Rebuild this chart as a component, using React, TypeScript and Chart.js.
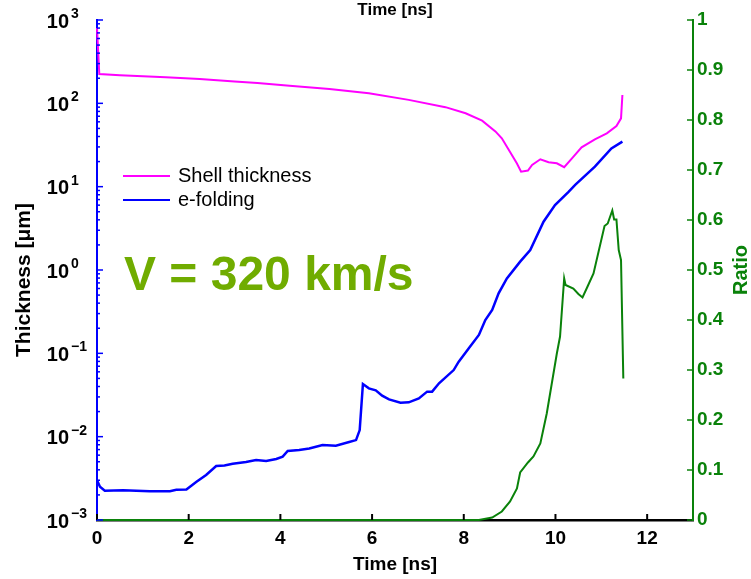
import React, { useEffect, useRef } from 'react';
import { Chart, registerables } from 'chart.js';

Chart.register(...registerables);

// ---------- data ----------
const shellTime = [0, 0.05, 0.5, 1.0, 1.5, 2.24, 3.0, 3.5, 4.2, 5.07, 5.93, 6.8, 7.6, 8.04, 8.4, 8.69, 8.83, 9.01, 9.16, 9.25, 9.4, 9.49, 9.67, 9.85, 10.03, 10.19, 10.36, 10.57, 10.86, 11.12, 11.33, 11.43, 11.46];
const shellThickness = [800, 225, 218, 212, 205, 196, 183, 175, 163, 149, 132, 110, 90, 76, 62, 46, 38, 26, 19, 15.1, 15.6, 18.2, 21.3, 19.6, 19.1, 17.1, 21.9, 29.6, 37, 43.7, 53.5, 66, 126];

const efoldTime = [0, 0.065, 0.17, 0.57, 1.15, 1.59, 1.73, 1.95, 2.17, 2.38, 2.6, 2.78, 2.96, 3.25, 3.47, 3.69, 3.91, 4.05, 4.16, 4.41, 4.63, 4.92, 5.21, 5.5, 5.65, 5.73, 5.8, 5.93, 6.08, 6.22, 6.37, 6.62, 6.8, 7.02, 7.2, 7.31, 7.46, 7.78, 7.89, 8.11, 8.33, 8.47, 8.62, 8.76, 8.94, 9.23, 9.45, 9.74, 9.99, 10.28, 10.43, 10.86, 11.22, 11.46];
const efoldThickness = [0.003, 0.00251, 0.00225, 0.00227, 0.00222, 0.00222, 0.0023, 0.00232, 0.00288, 0.00347, 0.00445, 0.00452, 0.00474, 0.00497, 0.00525, 0.0051, 0.0054, 0.00575, 0.00673, 0.00692, 0.0072, 0.00794, 0.0078, 0.00863, 0.0091, 0.012, 0.0428, 0.038, 0.036, 0.031, 0.028, 0.0256, 0.0258, 0.0288, 0.0347, 0.0347, 0.0437, 0.063, 0.0794, 0.115, 0.166, 0.251, 0.331, 0.525, 0.794, 1.26, 1.74, 3.8, 6.0, 8.6, 10.5, 17.4, 28.8, 34.7];

const ratioTime = [0, 8.0, 8.33, 8.62, 8.83, 9.01, 9.16, 9.23, 9.4, 9.52, 9.67, 9.81, 10.03, 10.1, 10.19, 10.22, 10.39, 10.5, 10.59, 10.7, 10.83, 11.07, 11.14, 11.24, 11.28, 11.33, 11.38, 11.43, 11.48];
const ratioValue = [0, 0, 0, 0.005, 0.017, 0.037, 0.063, 0.095, 0.115, 0.127, 0.153, 0.213, 0.333, 0.367, 0.483, 0.47, 0.463, 0.452, 0.445, 0.467, 0.493, 0.588, 0.593, 0.619, 0.601, 0.601, 0.54, 0.52, 0.283];

const timeTicks = [0, 2, 4, 6, 8, 10, 12];
const ratioTicks = [0, 0.1, 0.2, 0.3, 0.4, 0.5, 0.6, 0.7, 0.8, 0.9, 1];
const logExponents = [-3, -2, -1, 0, 1, 2, 3];

const labelShell = 'Shell thickness';
const labelEfold = 'e-folding';
const xTitle = 'Time [ns]';
const yTitle = 'Thickness [\u03bcm]';
const y2Title = 'Ratio';
const annotationText = 'V = 320 km/s';

const MAGENTA = '#ff00ff';
const BLUE = '#0000ff';
const GREEN = '#0a820a';
const ANNOT = '#70ac00';
const FONT = '"Liberation Sans", Arial, Helvetica, sans-serif';

const toPoints = (xs: number[], ys: number[]) => xs.map((x, i) => ({ x, y: ys[i] }));

const decorPlugin = {
  id: 'decor',
  afterDraw(chart: any) {
    const { ctx, chartArea } = chart;
    const xs = chart.scales.x;
    const ys = chart.scales.y;
    const yr = chart.scales.y1;
    ctx.save();
    // bottom ticks (inward)
    ctx.strokeStyle = '#000';
    ctx.lineWidth = 2;
    timeTicks.forEach((t) => {
      const px = xs.getPixelForValue(t);
      ctx.beginPath();
      ctx.moveTo(px, chartArea.bottom);
      ctx.lineTo(px, chartArea.bottom - 6);
      ctx.stroke();
    });
    // left log ticks
    ctx.strokeStyle = BLUE;
    ctx.lineWidth = 1.5;
    for (let e = -3; e <= 3; e++) {
      for (let k = 1; k <= 9; k++) {
        if (e === 3 && k > 1) break;
        const v = k * Math.pow(10, e);
        const py = ys.getPixelForValue(v);
        const len = k === 1 ? 6 : 3;
        ctx.beginPath();
        ctx.moveTo(chartArea.left, py);
        ctx.lineTo(chartArea.left + len, py);
        ctx.stroke();
      }
    }
    // right ticks
    ctx.strokeStyle = GREEN;
    ctx.lineWidth = 1.5;
    ratioTicks.forEach((r) => {
      const py = yr.getPixelForValue(r);
      ctx.beginPath();
      ctx.moveTo(chartArea.right, py);
      ctx.lineTo(chartArea.right - 6, py);
      ctx.stroke();
    });
    // left tick labels with superscripts
    ctx.fillStyle = '#000';
    logExponents.forEach((e) => {
      const py = ys.getPixelForValue(Math.pow(10, e));
      ctx.font = 'bold 20px ' + FONT;
      ctx.textAlign = 'right';
      ctx.textBaseline = 'middle';
      ctx.fillText('10', 69, py + 2);
      ctx.font = 'bold 14px ' + FONT;
      ctx.textAlign = 'left';
      ctx.textBaseline = 'alphabetic';
      ctx.fillText(e < 0 ? '\u2212' + Math.abs(e) : String(e), 71, py - 2);
    });
    // left axis title, rotated -90
    ctx.save();
    ctx.translate(24, 280);
    ctx.rotate(-Math.PI / 2);
    ctx.fillStyle = '#000';
    ctx.font = 'bold 21px ' + FONT;
    ctx.textAlign = 'center';
    ctx.textBaseline = 'middle';
    ctx.fillText(yTitle, 0, 0);
    ctx.restore();
    // right axis title, rotated -90
    ctx.save();
    ctx.translate(741, (chartArea.top + chartArea.bottom) / 2);
    ctx.rotate(-Math.PI / 2);
    ctx.fillStyle = GREEN;
    ctx.font = 'bold 20px ' + FONT;
    ctx.textAlign = 'center';
    ctx.textBaseline = 'middle';
    ctx.fillText(y2Title, 0, 0);
    ctx.restore();
    // legend
    const legend = [
      { label: labelShell, color: MAGENTA, y: 176 },
      { label: labelEfold, color: BLUE, y: 200 },
    ];
    legend.forEach((l) => {
      ctx.strokeStyle = l.color;
      ctx.lineWidth = 2;
      ctx.beginPath();
      ctx.moveTo(123, l.y);
      ctx.lineTo(170, l.y);
      ctx.stroke();
      ctx.fillStyle = '#000';
      ctx.font = '20px ' + FONT;
      ctx.textAlign = 'left';
      ctx.textBaseline = 'alphabetic';
      ctx.fillText(l.label, 178, l.y + 6);
    });
    // annotation
    ctx.fillStyle = ANNOT;
    ctx.font = 'bold 48px ' + FONT;
    ctx.textAlign = 'left';
    ctx.textBaseline = 'alphabetic';
    ctx.fillText(annotationText, 124, 290);
    ctx.restore();
  },
};

export default function App() {
  const ref = useRef<HTMLCanvasElement | null>(null);
  useEffect(() => {
    if (!ref.current) return;
    const chart = new Chart(ref.current, {
      type: 'line',
      data: {
        datasets: [
          {
            label: labelShell,
            data: toPoints(shellTime, shellThickness),
            borderColor: MAGENTA,
            borderWidth: 2,
            pointRadius: 0,
            yAxisID: 'y',
            xAxisID: 'x',
            clip: 4,
          },
          {
            label: labelEfold,
            data: toPoints(efoldTime, efoldThickness),
            borderColor: BLUE,
            borderWidth: 2.5,
            pointRadius: 0,
            yAxisID: 'y',
            xAxisID: 'x',
            clip: 4,
          },
          {
            label: 'Ratio',
            data: toPoints(ratioTime, ratioValue),
            borderColor: GREEN,
            borderWidth: 2,
            pointRadius: 0,
            yAxisID: 'y1',
            xAxisID: 'x',
            clip: 4,
          },
        ],
      },
      options: {
        animation: false,
        responsive: false,
        devicePixelRatio: 1,
        layout: { padding: 0 },
        plugins: { legend: { display: false }, tooltip: { enabled: false } },
        scales: {
          x: {
            type: 'linear',
            position: 'bottom',
            min: 0,
            max: 13,
            afterBuildTicks: (s: any) => {
              s.ticks = timeTicks.map((v) => ({ value: v }));
            },
            afterFit: (s: any) => {
              s.height = 59;
            },
            grid: { display: false, drawTicks: false },
            border: { display: true, color: '#000', width: 2.5 },
            ticks: {
              color: '#000',
              font: { family: FONT, size: 19, weight: 'bold' },
              padding: 7,
              maxRotation: 0,
            },
            title: {
              display: true,
              text: xTitle,
              color: '#000',
              font: { family: FONT, size: 19, weight: 'bold' },
              padding: { top: 0, bottom: 3 },
            },
          },
          x2: {
            type: 'linear',
            position: 'top',
            min: 0,
            max: 13,
            afterFit: (s: any) => {
              s.height = 20;
            },
            grid: { display: false, drawTicks: false },
            border: { display: false },
            ticks: { display: false },
            title: {
              display: true,
              text: xTitle,
              color: '#000',
              font: { family: FONT, size: 17, weight: 'bold' },
              padding: { top: 0, bottom: 0 },
            },
          },
          y: {
            type: 'logarithmic',
            position: 'left',
            min: 1e-3,
            max: 1e3,
            afterFit: (s: any) => {
              s.width = 97;
            },
            grid: { display: false, drawTicks: false },
            border: { display: true, color: BLUE, width: 2 },
            ticks: { display: false },
            title: { display: false },
          },
          y1: {
            type: 'linear',
            position: 'right',
            min: 0,
            max: 1,
            afterBuildTicks: (s: any) => {
              s.ticks = ratioTicks.map((v) => ({ value: v }));
            },
            afterFit: (s: any) => {
              s.width = 58;
            },
            grid: { display: false, drawTicks: false },
            border: { display: true, color: GREEN, width: 2 },
            ticks: {
              color: GREEN,
              font: { family: FONT, size: 19, weight: 'bold' },
              padding: 4,
              callback: (v: any) => String(Math.round(Number(v) * 10) / 10),
            },
          },
        },
      },
      plugins: [decorPlugin],
    } as any);
    return () => chart.destroy();
  }, []);
  return (
    <div style={{ position: 'absolute', left: 0, top: 0, width: 751, height: 579, background: '#fff' }}>
      <canvas ref={ref} width={751} height={579} />
    </div>
  );
}
